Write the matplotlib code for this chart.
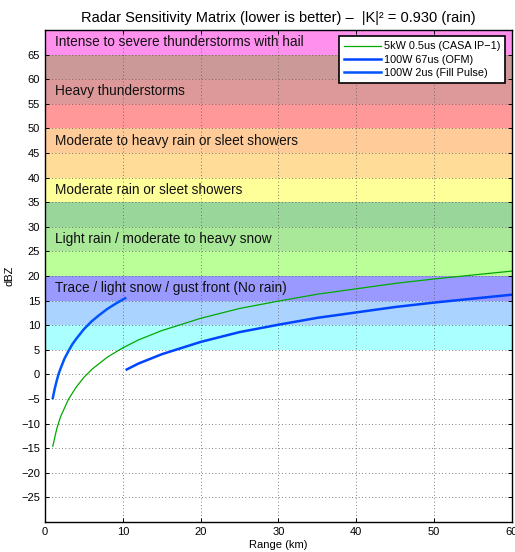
import numpy as np
import matplotlib
matplotlib.use("Agg")
import matplotlib.pyplot as plt

plt.rcParams['font.family'] = ['Liberation Sans', 'DejaVu Sans']

# reflectivity bands (dBZ) and their colours
band_lo = [5, 10, 15, 20, 25, 30, 35, 40, 45, 50, 55, 60, 65]
band_colors = ['#aaffff', '#aad4ff', '#9999ff', '#bbff99', '#a8e898', '#99d699',
               '#ffff99', '#ffdd99', '#ffcc99', '#ff9999', '#dd9999', '#cc9999', '#ff90ee']

band_labels = ['Trace / light snow / gust front (No rain)',
               'Light rain / moderate to heavy snow',
               'Moderate rain or sleet showers',
               'Moderate to heavy rain or sleet showers',
               'Heavy thunderstorms',
               'Intense to severe thunderstorms with hail']
label_dbz = [17.5, 27.5, 37.5, 47.5, 57.5, 67.5]

# sensitivity curves
range_casa = [1, 1.5, 2, 3, 4, 5, 6, 8, 10, 12, 15, 20, 25, 30, 35, 40, 45, 50, 55, 60]
dbz_casa = [-14.6, -11.1, -8.6, -5.1, -2.6, -0.6, 1.0, 3.5, 5.4, 7.0, 8.9, 11.4,
            13.4, 14.9, 16.3, 17.4, 18.5, 19.4, 20.2, 21.0]

range_fill = [1, 1.25, 1.5, 1.75, 2, 2.5, 3, 3.5, 4, 5, 6, 7, 8, 9, 10.3]
dbz_fill = [-4.8, -2.9, -1.3, 0.1, 1.2, 3.2, 4.7, 6.1, 7.2, 9.2, 10.8, 12.1, 13.3, 14.3, 15.5]

range_ofm = [10.5, 12, 15, 20, 25, 30, 35, 40, 45, 50, 55, 60]
dbz_ofm = [1.0, 2.2, 4.1, 6.6, 8.6, 10.1, 11.5, 12.6, 13.7, 14.6, 15.4, 16.2]

fig = plt.figure(figsize=(5.15, 5.52), dpi=100)
ax = fig.add_axes([0.0874, 0.0543, 0.9066, 0.8914])

for lo, c in zip(band_lo, band_colors):
    ax.axhspan(lo, lo + 5, color=c, lw=0, zorder=0)

for txt, y in zip(band_labels, label_dbz):
    ax.text(1.3, y, txt, fontsize=9.8, va='center', ha='left', color='#111111', zorder=3)

ax.plot(range_casa, dbz_casa, color='#00aa00', lw=0.9, label='5kW 0.5us (CASA IP\u22121)', zorder=4)
ax.plot(range_ofm, dbz_ofm, color='#0044ff', lw=1.8, label='100W 67us (OFM)', zorder=4)
ax.plot(range_fill, dbz_fill, color='#0055ff', lw=1.8, label='100W 2us (Fill Pulse)', zorder=4)

ax.set_xlim(0, 60)
ax.set_ylim(-30, 70)
ax.set_xticks(np.arange(0, 61, 10))
ax.set_yticks(np.arange(-25, 66, 5))
ax.set_yticklabels([str(v).replace('-', '\u2212') for v in range(-25, 66, 5)])
ax.grid(True, color='#555555', linestyle=(0, (1, 3)), linewidth=0.6)
ax.set_axisbelow(False)
ax.tick_params(direction='in', labelsize=8, length=3, width=0.7, top=True, right=True)
for s in ax.spines.values():
    s.set_linewidth(1.0)
    s.set_zorder(5)

ax.set_xlabel('Range (km)', fontsize=8, labelpad=2)
ax.set_ylabel('dBZ', fontsize=8, labelpad=5)
ax.set_title('Radar Sensitivity Matrix (lower is better) \u2013  |K|\u00b2 = 0.930 (rain)',
             fontsize=10.5, pad=6)

leg = ax.legend(loc='upper right', fontsize=7.8, fancybox=False, framealpha=1,
                edgecolor='black', borderpad=0.45, handlelength=3.4, labelspacing=0.3,
                borderaxespad=0.6, handletextpad=0.3)
leg.get_frame().set_linewidth(1.2)
leg.set_zorder(6)

fig.savefig('out.png', dpi=100)
